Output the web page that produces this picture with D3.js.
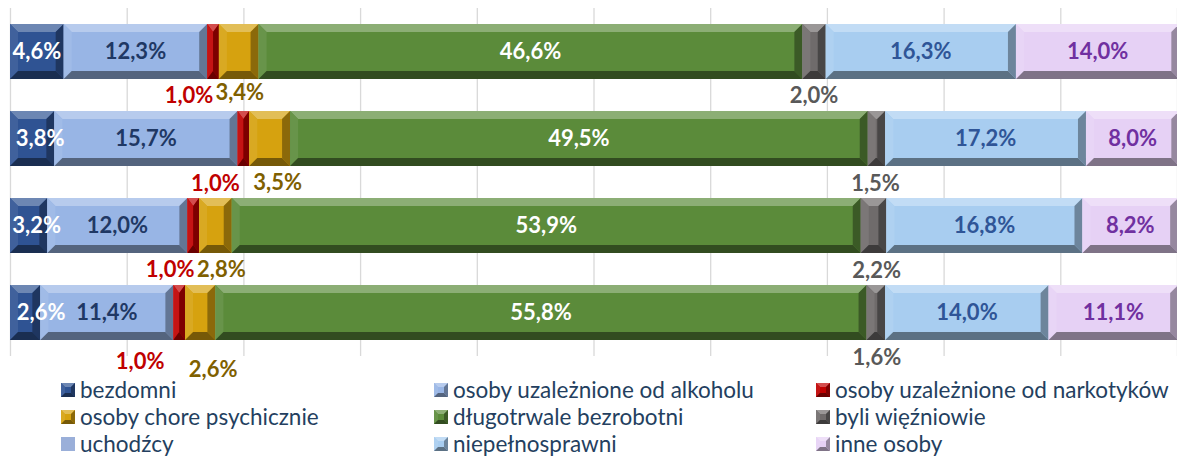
<!DOCTYPE html>
<html>
<head>
<meta charset="utf-8">
<script src="https://cdn.jsdelivr.net/npm/d3@7"></script>
<style>
  body { margin: 0; background: #fff; }
  svg { display: block; font-family: Lato, "Open Sans", sans-serif; }
</style>
</head>
<body>
<svg id="chart"></svg>
<script>
// rows of the stacked chart (top to bottom), not printed on the chart
const rows = ["r1", "r2", "r3", "r4"];

const categories = [
  "bezdomni",
  "osoby uzależnione od alkoholu",
  "osoby uzależnione od narkotyków",
  "osoby chore psychicznie",
  "długotrwale bezrobotni",
  "byli więźniowie",
  "uchodźcy",
  "niepełnosprawni",
  "inne osoby"
];

// percent values per category, one per row
const bezdomni = [4.6, 3.8, 3.2, 2.6];
const alkohol = [12.3, 15.7, 12.0, 11.4];
const narkotyki = [1.0, 1.0, 1.0, 1.0];
const chorzy = [3.4, 3.5, 2.8, 2.6];
const bezrobotni = [46.6, 49.5, 53.9, 55.8];
const wiezniowie = [2.0, 1.5, 2.2, 1.6];
const uchodzcy = [0, 0, 0, 0];
const niepelnosprawni = [16.3, 17.2, 16.8, 14.0];
const inne = [14.0, 8.0, 8.2, 11.1];

const seriesValues = [bezdomni, alkohol, narkotyki, chorzy, bezrobotni,
                      wiezniowie, uchodzcy, niepelnosprawni, inne];

const fills = ["#2f5393", "#98b5e5", "#c00000", "#d6a20f", "#5b8b3a",
               "#6f6b6b", "#9aafd9", "#a8cdf0", "#e6d1f5"];
const labelColors = ["#ffffff", "#1f3864", "#c00000", "#7f6000", "#ffffff",
                     "#595959", "#1f3864", "#2f5597", "#7030a0"];
// small segments get their label under the bar
const outside = [false, false, true, true, false, true, false, false, false];
// hand placed label nudges, key = series-row
const nudge = {
  "0-1": {dx: 8, dy: 0}, "0-2": {dx: 8, dy: 0}, "0-3": {dx: 16, dy: 0},
  "2-0": {dx: -24, dy: 0}, "3-0": {dx: 1, dy: -3}, "5-0": {dx: 0, dy: 0},
  "2-1": {dx: -28, dy: 1}, "3-1": {dx: 8, dy: 0}, "5-1": {dx: -1, dy: 1},
  "2-2": {dx: -23, dy: 0}, "3-2": {dx: 6, dy: 0}, "5-2": {dx: 3, dy: 1},
  "2-3": {dx: -39, dy: 5}, "3-3": {dx: 13, dy: 13}, "5-3": {dx: 1, dy: 1}
};

const width = 1177, height = 457;

const table = rows.map((r, i) => {
  const o = {row: r};
  categories.forEach((c, j) => o[c] = seriesValues[j][i]);
  return o;
});

const svg = d3.select("#chart")
  .attr("width", width)
  .attr("height", height);

const x = d3.scaleLinear().domain([0, 100]).range([10, 1177]);
const y = d3.scaleBand().domain(rows).range([8, 356])
  .paddingInner(0.368).paddingOuter(0.184);

// vertical gridlines
const xAxis = d3.axisBottom(x)
  .tickValues(d3.range(0, 101, 10))
  .tickSize(-(356 - 8))
  .tickFormat("");
svg.append("g")
  .attr("transform", "translate(0,356)")
  .call(xAxis)
  .call(g => g.select(".domain").remove())
  .call(g => g.selectAll(".tick line").attr("stroke", "#d9d9d9").attr("stroke-width", 1.3));

// draws a block with bevelled edges
function bevelBlock(g, x0, x1, y0, y1, color, bmax) {
  const w = x1 - x0, h = y1 - y0;
  if (w <= 0) return;
  const bx = Math.min(bmax, w / 2), by = Math.min(bmax, h / 2);
  const c = d3.color(color);
  const pts = a => a.map(p => p.join(",")).join(" ");
  g.append("rect").attr("x", x0).attr("y", y0).attr("width", w).attr("height", h).attr("fill", color);
  g.append("polygon")
    .attr("points", pts([[x0, y0], [x1, y0], [x1 - bx, y0 + by], [x0 + bx, y0 + by]]))
    .attr("fill", d3.interpolateRgb(c, "#ffffff")(0.3));
  g.append("polygon")
    .attr("points", pts([[x0, y0], [x0 + bx, y0 + by], [x0 + bx, y1 - by], [x0, y1]]))
    .attr("fill", d3.interpolateRgb(c, "#ffffff")(0.08));
  g.append("polygon")
    .attr("points", pts([[x1, y0], [x1, y1], [x1 - bx, y1 - by], [x1 - bx, y0 + by]]))
    .attr("fill", d3.interpolateRgb(c, "#000000")(0.35));
  g.append("polygon")
    .attr("points", pts([[x0, y1], [x1, y1], [x1 - bx, y1 - by], [x0 + bx, y1 - by]]))
    .attr("fill", d3.interpolateRgb(c, "#000000")(0.45));
}

const stacked = d3.stack().keys(categories)(table);
const fmt = v => d3.format(".1f")(v).replace(".", ",") + "%";

const bars = svg.append("g");
stacked.forEach((s, j) => {
  s.forEach((d, i) => {
    bevelBlock(bars, x(d[0]), x(d[1]), y(rows[i]), y(rows[i]) + y.bandwidth(), fills[j], 8);
  });
});

const labels = svg.append("g")
  .attr("font-weight", "bold")
  .attr("font-size", 22)
  .attr("text-anchor", "middle");
stacked.forEach((s, j) => {
  s.forEach((d, i) => {
    const v = d[1] - d[0];
    if (v <= 0) return;
    const n = nudge[j + "-" + i] || {dx: 0, dy: 0};
    const cx = (x(d[0]) + x(d[1])) / 2 + n.dx;
    const cy = outside[j]
      ? y(rows[i]) + y.bandwidth() + 16 + n.dy
      : y(rows[i]) + y.bandwidth() / 2 + n.dy;
    labels.append("text")
      .attr("x", cx)
      .attr("y", cy)
      .attr("dy", "0.35em")
      .attr("fill", labelColors[j])
      .text(fmt(v));
  });
});

// legend, 3 columns
const legendX = [61, 434, 816];
const legendY = [390, 417, 444];
const legend = svg.append("g").attr("font-size", 22.5).attr("fill", "#243f60");
categories.forEach((c, j) => {
  const lx = legendX[j % 3], ly = legendY[Math.floor(j / 3)];
  if (c === "uchodźcy") {
    legend.append("rect").attr("x", lx).attr("y", ly - 7).attr("width", 14).attr("height", 14).attr("fill", fills[j]);
  } else {
    bevelBlock(legend, lx, lx + 14, ly - 7, ly + 7, fills[j], 4);
  }
  legend.append("text")
    .attr("x", lx + 19)
    .attr("y", ly)
    .attr("dy", "0.35em")
    .text(c);
});
</script>
</body>
</html>
